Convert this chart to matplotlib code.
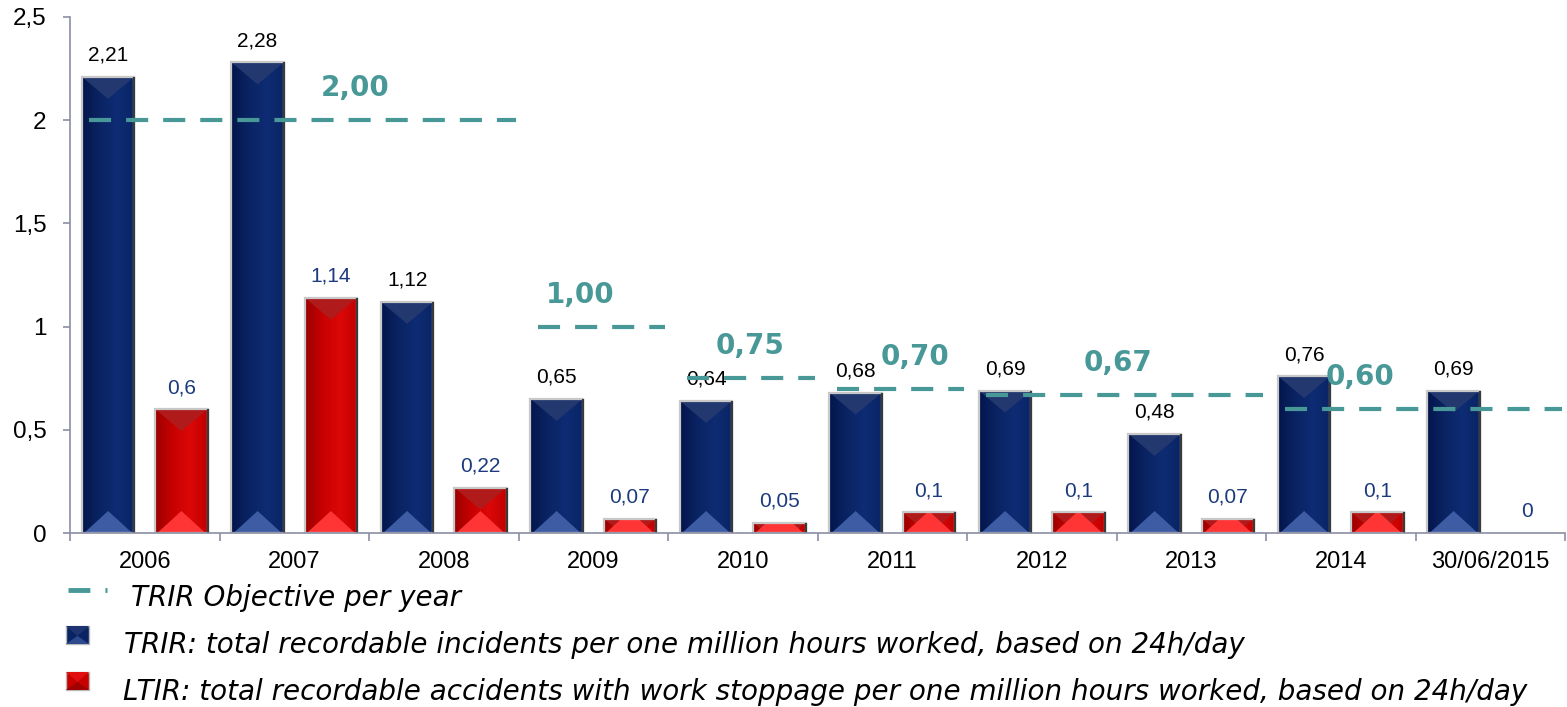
import numpy as np
import matplotlib.pyplot as plt
from matplotlib.patches import Rectangle, Polygon
from matplotlib.colors import LinearSegmentedColormap
from matplotlib.lines import Line2D
from matplotlib.ticker import FixedLocator, FuncFormatter

plt.rcParams["font.family"] = ["Liberation Sans", "DejaVu Sans"]

# safety indicators per year
categories = ["2006", "2007", "2008", "2009", "2010", "2011", "2012", "2013", "2014", "30/06/2015"]
trir = [2.21, 2.28, 1.12, 0.65, 0.64, 0.68, 0.69, 0.48, 0.76, 0.69]
ltir = [0.6, 1.14, 0.22, 0.07, 0.05, 0.1, 0.1, 0.07, 0.1, 0]

# TRIR objectives and the years they apply to
objective_values = [2.00, 1.00, 0.75, 0.70, 0.67, 0.60]
objective_first = ["2006", "2009", "2010", "2011", "2012", "2014"]
objective_last = ["2008", "2009", "2010", "2011", "2013", "30/06/2015"]

legend_labels = [
    "TRIR Objective per year",
    "TRIR: total recordable incidents per one million hours worked, based on 24h/day",
    "LTIR: total recordable accidents with work stoppage per one million hours worked, based on 24h/day",
]

NAVY = ["#03164c", "#0a2463", "#0e2c74", "#0a2565"]
RED = ["#9c0000", "#c80000", "#dc0808", "#c00000"]
TEAL = "#489898"

W, H = 1567, 707
fig = plt.figure(figsize=(W / 100, H / 100), dpi=100)
ax = fig.add_axes([70 / W, 174 / H, (1565 - 70) / W, 516 / H])
ax.set_xlim(-0.5, len(categories) - 0.5)
ax.set_ylim(0, 2.5)
px = 2.5 / 516  # data units per pixel on y


def bevel_bar(x, h, w, cols, tri_top, tri_bot):
    x0 = x - w / 2
    rect = Rectangle((x0, 0), w, h, facecolor=cols[1], edgecolor="none", zorder=2)
    ax.add_patch(rect)
    if h <= 0:
        return
    cmap = LinearSegmentedColormap.from_list("b", cols)
    im = ax.imshow(np.linspace(0, 1, 50)[None, :], cmap=cmap, aspect="auto",
                   extent=(x0, x0 + w, 0, h), zorder=2.1)
    im.set_clip_path(rect)
    th = 22 * px
    top = Polygon([(x0, h), (x0 + w, h), (x, h - th)], closed=True,
                  facecolor=tri_top, edgecolor="none", zorder=2.2)
    bot = Polygon([(x0 + w * 0.04, 0), (x0 + w * 0.96, 0), (x, th)], closed=True,
                  facecolor=tri_bot, edgecolor="none", zorder=2.2)
    for p in (top, bot):
        ax.add_patch(p)
        p.set_clip_path(rect)
    ax.add_patch(Rectangle((x0, 0), w, h, facecolor="none", edgecolor="#c8c8c8",
                           lw=1.6, zorder=2.3))
    ax.plot([x0 + w, x0 + w], [0, h], color="#3a3a3a", lw=1.6, zorder=2.4,
            solid_capstyle="butt")


bw = 0.35
off = 0.245
for i, (t, l) in enumerate(zip(trir, ltir)):
    bevel_bar(i - off, t, bw, NAVY, "#22386e", "#3d5ca3")
    bevel_bar(i + off, l, bw, RED, "#b01a1a", "#ff3535")
    ax.annotate(f"{t:g}".replace(".", ","), (i - off, t), xytext=(0, 11.5),
                textcoords="offset points", ha="center", va="baseline",
                fontsize=15, color="black")
    ax.annotate(f"{l:g}".replace(".", ","), (i + off, l), xytext=(0, 11.5),
                textcoords="offset points", ha="center", va="baseline",
                fontsize=15, color="#1c3a7e")

# objective dashed lines
label_x = [1.41, 2.91, 4.05, 5.15, 6.51, 8.13]
for v, a, b, lx in zip(objective_values, objective_first, objective_last, label_x):
    x_start = max(categories.index(a) - 0.37, -0.5)
    x_end = min(categories.index(b) + 0.48, len(categories) - 0.5)
    ax.plot([x_start, x_end], [v, v], color=TEAL, lw=3, dashes=(5.3, 3.6),
            dash_capstyle="butt", zorder=3)
    ax.annotate(f"{v:.2f}".replace(".", ","), (lx, v), xytext=(0, 23),
                textcoords="offset points", ha="center", va="center",
                fontsize=20, fontweight="bold", color=TEAL, family="DejaVu Sans")

# axes styling
for s in ("top", "right"):
    ax.spines[s].set_visible(False)
for s in ("left", "bottom"):
    ax.spines[s].set_color("#8a8fa3")
    ax.spines[s].set_linewidth(1.2)

ax.set_yticks([0, 0.5, 1, 1.5, 2, 2.5])
ax.yaxis.set_major_formatter(FuncFormatter(lambda v, _: f"{v:g}".replace(".", ",")))
ax.tick_params(axis="y", length=5, width=1.2, color="#8a8fa3", labelsize=17.5, pad=12)

ax.set_xticks(range(len(categories)))
ax.set_xticklabels(categories)
ax.xaxis.set_minor_locator(FixedLocator(np.arange(-0.5, len(categories), 1)))
ax.tick_params(axis="x", which="major", length=0, labelsize=17, pad=13)
ax.tick_params(axis="x", which="minor", length=6, width=1.2, color="#8a8fa3")

# legend drawn below the plot
lf = dict(fontsize=20, style="italic", family="DejaVu Sans", color="black")
fig.text(131 / W, 1 - 606 / H, legend_labels[0], **lf)
fig.text(124 / W, 1 - 653 / H, legend_labels[1], **lf)
fig.text(123 / W, 1 - 700 / H, legend_labels[2], **lf)
fig.add_artist(Line2D([68 / W, 107 / W], [1 - 590 / H] * 2, color=TEAL, lw=3.5,
                      dashes=(4.5, 3.1), dash_capstyle="butt"))


def legend_icon(y_top, cols, tri_top, tri_bot):
    x0, w, h = 66 / W, 23 / W, 18 / H
    y0 = 1 - (y_top + 18) / H
    fig.add_artist(Rectangle((x0, y0), w, h, facecolor=cols[1], edgecolor="#b8b8b8", lw=1))
    fig.add_artist(Polygon([(x0, y0 + h), (x0 + w, y0 + h), (x0 + w / 2, y0 + h * 0.45)],
                           closed=True, facecolor=tri_top, edgecolor="none"))
    fig.add_artist(Polygon([(x0, y0), (x0 + w, y0), (x0 + w / 2, y0 + h * 0.45)],
                           closed=True, facecolor=tri_bot, edgecolor="none"))


legend_icon(626, NAVY, "#1d3470", "#2d4a8c")
legend_icon(672, RED, "#e01010", "#a00000")

fig.savefig("out.png", dpi=100)
